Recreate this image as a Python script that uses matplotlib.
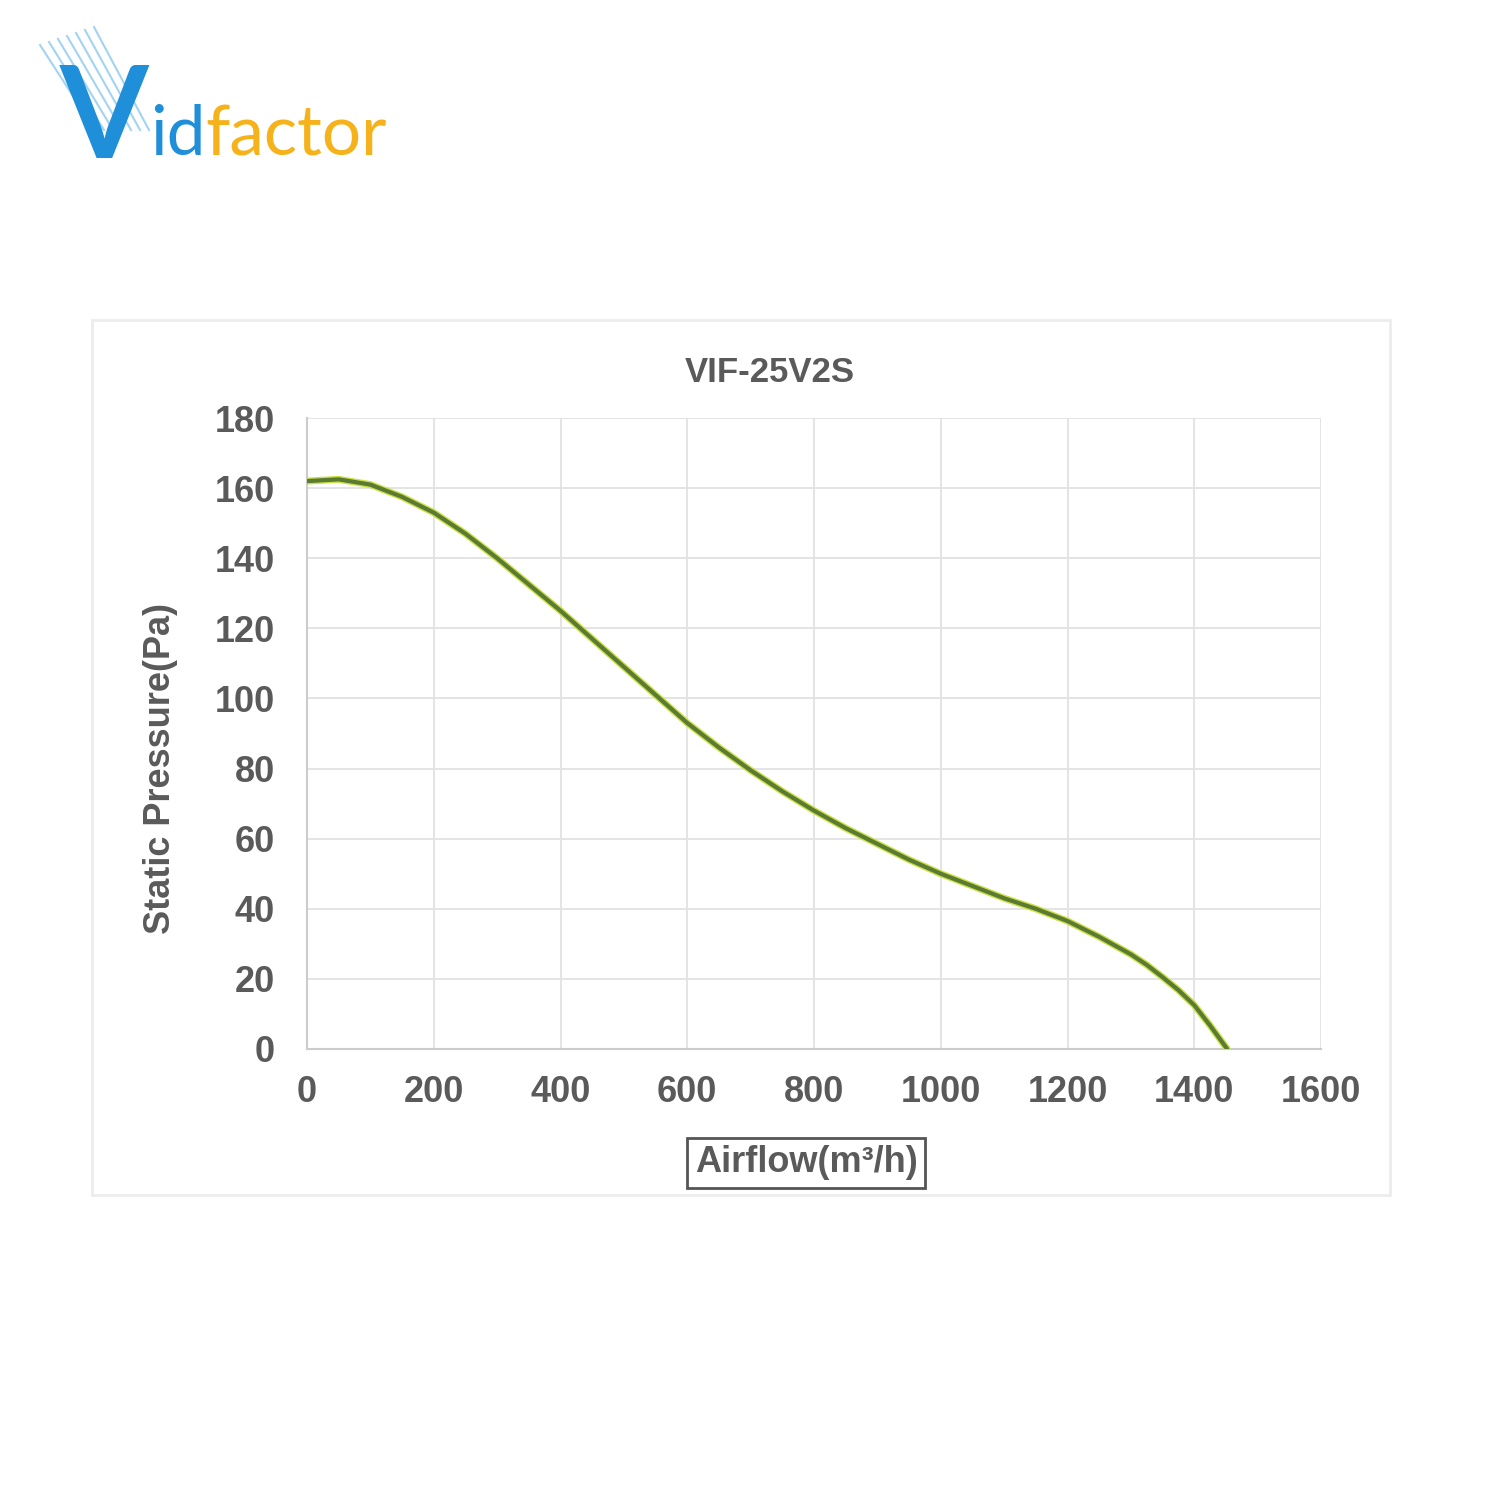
import matplotlib.pyplot as plt
from matplotlib.patches import Rectangle

# =========================================
# DATA
# =========================================

airflow = [0, 50, 100, 150, 200, 250, 300, 350, 400, 450, 500, 550, 600,
           650, 700, 750, 800, 850, 900, 950, 1000, 1050, 1100, 1150, 1200,
           1250, 1300, 1325, 1350, 1375, 1400, 1425, 1452]
pressure = [162, 162.5, 161, 157.5, 153, 147, 140, 132.5, 125, 117, 109, 101, 93,
            86, 79.5, 73.5, 68, 63, 58.5, 54, 50, 46.5, 43, 40, 36.5,
            32, 27, 24, 20.5, 16.8, 12.5, 6.7, 0]

x_ticks = [0, 200, 400, 600, 800, 1000, 1200, 1400, 1600]
y_ticks = [0, 20, 40, 60, 80, 100, 120, 140, 160, 180]

title = "VIF-25V2S"
x_label = "Airflow(m³/h)"
y_label = "Static Pressure(Pa)"

label_color = "#5a5a5a"
plt.rcParams['font.family'] = ['Liberation Sans', 'DejaVu Sans']

# =========================================
# FIGURE
# =========================================

fig = plt.figure(figsize=(15, 15), dpi=100)
fig.patch.set_facecolor("white")

# panel frame behind the chart
fig.patches.append(Rectangle((92 / 1500, 1 - 1195 / 1500), 1298 / 1500, 875 / 1500,
                             transform=fig.transFigure, fill=False,
                             edgecolor="#ececec", linewidth=2))

# =========================================
# LOGO
# =========================================

for i in range(7):
    x0 = 40 + i * 9
    fig.add_artist(plt.Line2D([x0 / 1500, (x0 + 55) / 1500],
                              [1 - (45 - i * 3) / 1500, 1 - 130 / 1500],
                              transform=fig.transFigure,
                              color="#8cc8f0", linewidth=1.5, alpha=0.8))
fig.text(60 / 1500, 1 - 158 / 1500, "V", fontsize=92, fontweight="bold",
         color="#1e8fd8", ha="left", va="baseline", family="Lato")
fig.text(150 / 1500, 1 - 155 / 1500, "id", fontsize=50,
         color="#1e8fd8", ha="left", va="baseline", family="Lato")
fig.text(205 / 1500, 1 - 155 / 1500, "factor", fontsize=50,
         color="#f5b21a", ha="left", va="baseline", family="Lato")

# =========================================
# CHART
# =========================================

ax = fig.add_axes([307 / 1500, 1 - 1049 / 1500, 1014 / 1500, 631 / 1500])

ax.plot(airflow, pressure, color="#c9e040", linewidth=5,
        solid_capstyle="round", zorder=3)
ax.plot(airflow, pressure, color="#5b7a34", linewidth=3,
        solid_capstyle="round", zorder=4)

ax.set_xlim(0, 1600)
ax.set_ylim(0, 180)
ax.set_xticks(x_ticks)
ax.set_yticks(y_ticks)

ax.grid(True, color="#e2e2e2", linewidth=1.3)
ax.set_axisbelow(True)

for side in ["top", "right"]:
    ax.spines[side].set_visible(False)
for side in ["left", "bottom"]:
    ax.spines[side].set_color("#cccccc")
    ax.spines[side].set_linewidth(1.5)

ax.tick_params(axis="x", length=0, pad=19, labelsize=26, labelcolor=label_color)
ax.tick_params(axis="y", length=0, pad=23, labelsize=26, labelcolor=label_color)
for lbl in ax.get_xticklabels() + ax.get_yticklabels():
    lbl.set_fontweight("bold")

ax.set_ylabel(y_label, fontsize=26, fontweight="bold", color=label_color)
ax.yaxis.set_label_coords(-129 / 1014, 0.445)

fig.text(770 / 1500, 1 - 373 / 1500, title, fontsize=25, fontweight="bold",
         color=label_color, ha="center", va="center")

fig.text(806 / 1500, 1 - 1163 / 1500, x_label, fontsize=26, fontweight="bold",
         color=label_color, ha="center", va="center",
         bbox=dict(boxstyle="square,pad=0.2", facecolor="white",
                   edgecolor="#555555", linewidth=2))

fig.savefig("out.png", dpi=100, facecolor="white")
